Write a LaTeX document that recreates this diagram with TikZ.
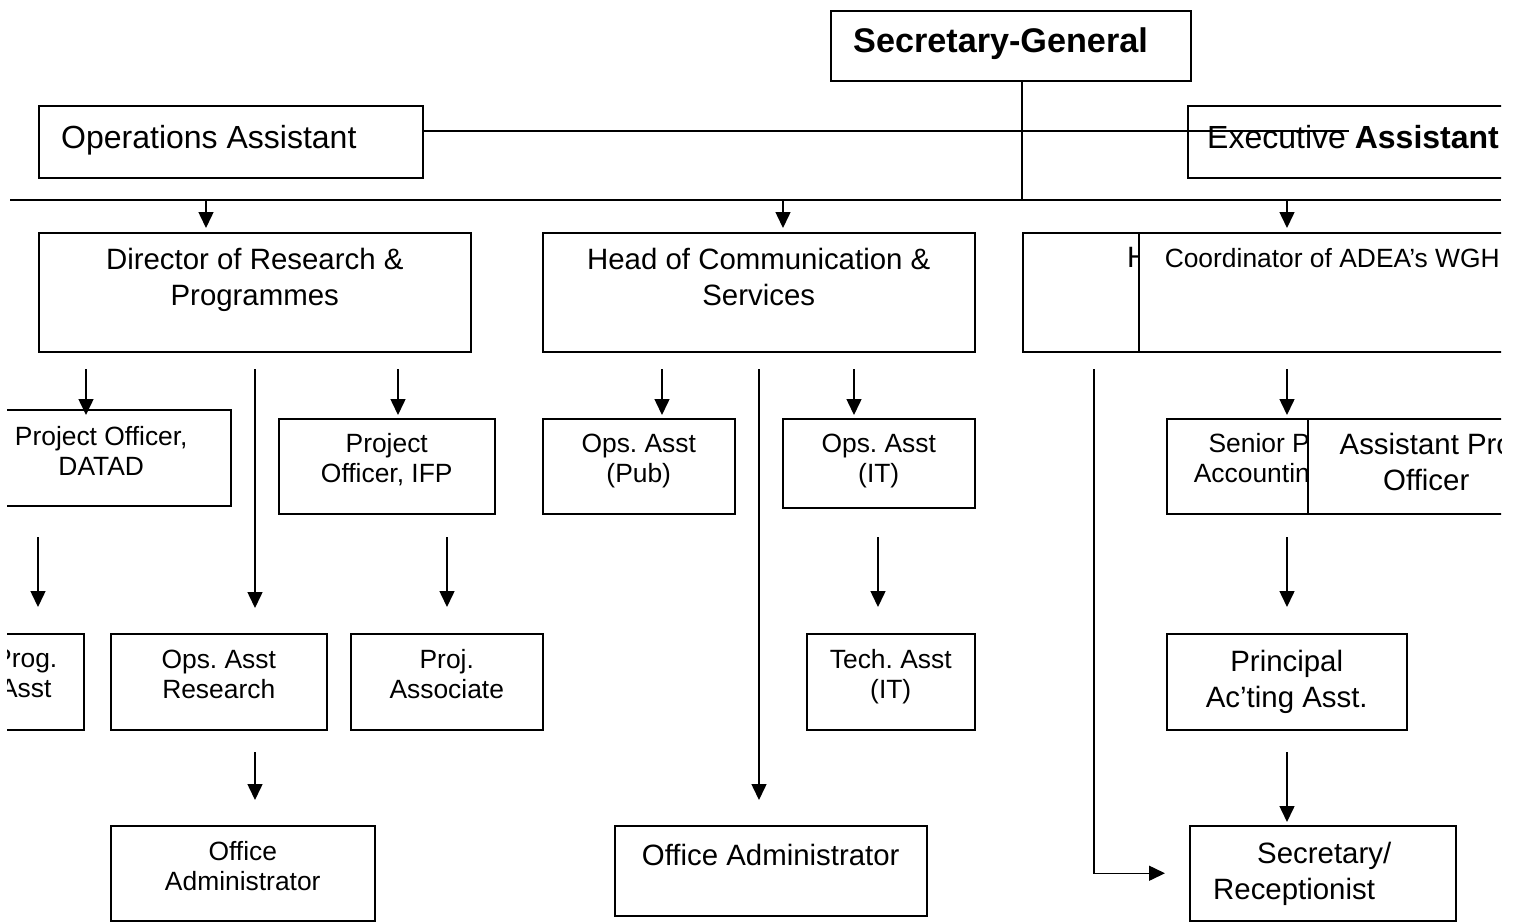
\documentclass[tikz,border=0pt]{standalone}
\usepackage{fontspec}
\setmainfont{Liberation Sans}
\usetikzlibrary{arrows.meta}
\frenchspacing

\tikzset{
  box/.style={draw, line width=1.5pt, anchor=north west, inner sep=0pt},
  front/.style={box, fill=white},
  big/.style={font=\fontsize{32}{36}\selectfont, align=center, anchor=north, inner sep=0pt},
  mid/.style={font=\fontsize{29.4}{36}\selectfont, align=center, anchor=north, inner sep=0pt},
  small/.style={font=\fontsize{26.4}{30}\selectfont, align=center, anchor=north, inner sep=0pt},
  arr/.style={-{Triangle[length=16pt,width=15pt]}, line width=1.5pt},
  wire/.style={line width=1.5pt}
}

\begin{document}
\begin{tikzpicture}[x=1pt, y=-1pt]
\useasboundingbox (0,0) rectangle (1519,922);
\clip (7,0) rectangle (1501,922);

\node[box, minimum width=360, minimum height=70, label={[anchor=north west, inner sep=0pt, font=\fontsize{34.2}{40}\selectfont\bfseries, xshift=23, yshift=-18]north west:Secretary-General}] (SG) at (830,10) {};
\node[box, minimum width=384, minimum height=72, label={[big, anchor=north west, xshift=23, yshift=-20.5]north west:Operations Assistant}] (OpsA) at (38,105) {};
\node[box, minimum width=340, minimum height=72, label={[big, anchor=north west, xshift=20, yshift=-20.5]north west:Executive \textbf{Assistant}}] (Exec) at (1187,105) {};

\node[box, minimum width=432, minimum height=119, label={[mid, yshift=-15.5]north:Director of Research \&\\Programmes}] (Dir) at (38,232) {};
\node[box, minimum width=432, minimum height=119, label={[mid, yshift=-15.5]north:Head of Communication \&\\Services}] (HCS) at (542,232) {};
\node[box, minimum width=458, minimum height=119, label={[mid, anchor=north west, xshift=105, yshift=-15.5]north west:H}] (HFA) at (1022,232) {};
\node[front, minimum width=387, minimum height=119, label={[small, yshift=-16.5]north:Coordinator of ADEA’s WGH}] (WGH) at (1138,232) {};

\node[box, minimum width=259, minimum height=96, label={[small, yshift=-17.5]north:Project Officer,\\DATAD}] (DATAD) at (-29,409) {};
\node[box, minimum width=216, minimum height=95, label={[small, yshift=-15.5]north:Project\\Officer, IFP}] (IFP) at (278,418) {};
\node[box, minimum width=192, minimum height=95, label={[small, yshift=-15.5]north:Ops. Asst\\(Pub)}] (Pub) at (542,418) {};
\node[box, minimum width=192, minimum height=89, label={[small, yshift=-15.5]north:Ops. Asst\\(IT)}] (OpsIT) at (782,418) {};
\node[box, minimum width=264, minimum height=95, label={[small, align=right, anchor=north east, xshift=144, yshift=-15.5]north west:Senior P\\Accountin}] (Senior) at (1166,418) {};
\node[front, minimum width=237, minimum height=95, label={[mid, yshift=-14.5]north:Assistant Pro\\Officer}] (APO) at (1307,418) {};

\node[box, minimum width=116, minimum height=96, label={[small, yshift=-16.5]north:Prog.\\Asst}] (Prog) at (-33,633) {};
\node[box, minimum width=216, minimum height=96, label={[small, yshift=-16.5]north:Ops. Asst\\Research}] (OpsR) at (110,633) {};
\node[box, minimum width=192, minimum height=96, label={[small, yshift=-16.5]north:Proj.\\Associate}] (PAssoc) at (350,633) {};
\node[box, minimum width=168, minimum height=96, label={[small, yshift=-16.5]north:Tech. Asst\\(IT)}] (Tech) at (806,633) {};
\node[box, minimum width=240, minimum height=96, label={[mid, yshift=-16.5]north:Principal\\Ac’ting Asst.}] (PAA) at (1166,633) {};

\node[box, minimum width=264, minimum height=95, label={[small, yshift=-16.5]north:Office\\Administrator}] (Adm1) at (110,825) {};
\node[box, minimum width=312, minimum height=90, label={[mid, yshift=-18.5]north:Office Administrator}] (Adm2) at (614,825) {};
\node[box, minimum width=266, minimum height=95, label={[mid, align=left, anchor=north west, xshift=24, yshift=-16.5]north west:\hspace*{44pt}Secretary/\\Receptionist}] (SecR) at (1189,825) {};

\coordinate (bus) at (1022,200);
\coordinate (busW) at (10,200);
\coordinate (busE) at (1501,200);
\foreach \n/\x/\y in {b1/206/200, b2/783/200, b3/1287/200, r1/86/369, r2/255/369, r3/398/369,
  c1/662/369, c2/759/369, c3/854/369, f1/1094/369, f2/1287/369, p1/38/537, p2/447/537,
  t1/878/537, s1/1287/537, o1/255/752, s2/1287/752}
  \coordinate (\n) at (\x,\y);

\draw[wire] (SG.south -| bus) -- (bus);
\draw[wire] (busW) -- (busE);
\draw[wire] ([yshift=11]OpsA.east) -- ++(925,0);

\draw[arr, shorten >=4pt] (b1) -- (b1 |- Dir.north);
\draw[arr, shorten >=4pt] (b2) -- (b2 |- HCS.north);
\draw[arr, shorten >=4pt] (b3) -- (b3 |- WGH.north);

\draw[arr, shorten >=-6pt] (r1) -- (r1 |- DATAD.north);
\draw[arr, shorten >=25pt] (r2) -- (r2 |- OpsR.north);
\draw[arr, shorten >=3pt] (r3) -- (r3 |- IFP.north);
\draw[arr, shorten >=3pt] (c1) -- (c1 |- Pub.north);
\draw[arr, shorten >=25pt] (c2) -- (c2 |- Adm2.north);
\draw[arr, shorten >=3pt] (c3) -- (c3 |- OpsIT.north);
\draw[arr, shorten >=24pt] (f1) |- (SecR.west);
\draw[arr, shorten >=3pt] (f2) -- (f2 |- Senior.north);

\draw[arr, shorten >=26pt] (p1) -- (p1 |- Prog.north);
\draw[arr, shorten >=26pt] (p2) -- (p2 |- PAssoc.north);
\draw[arr, shorten >=26pt] (t1) -- (t1 |- Tech.north);
\draw[arr, shorten >=26pt] (s1) -- (s1 |- PAA.north);
\draw[arr, shorten >=25pt] (o1) -- (o1 |- Adm1.north);
\draw[arr, shorten >=3pt] (s2) -- (s2 |- SecR.north);
\end{tikzpicture}
\end{document}
